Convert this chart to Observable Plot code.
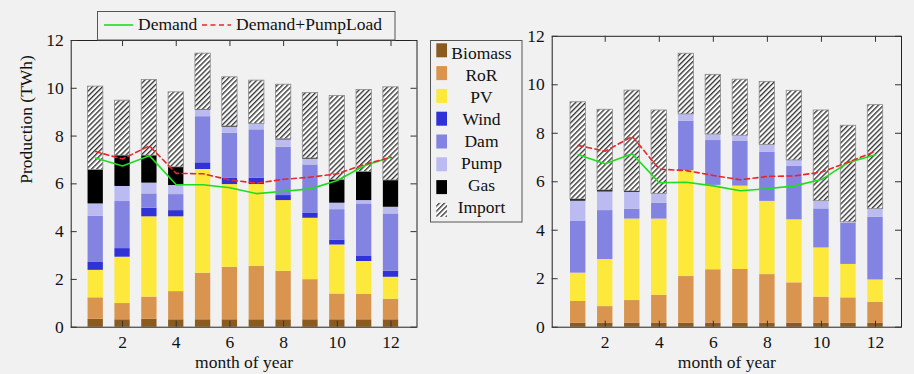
<!DOCTYPE html>
<html><head><meta charset="utf-8">
<script src="https://cdn.jsdelivr.net/npm/d3@7"></script>
<script src="https://cdn.jsdelivr.net/npm/@observablehq/plot@0.6"></script>
<style>
html,body{margin:0;padding:0;background:#f1f1f1;}
#wrap{position:relative;width:914px;height:374px;overflow:hidden;background:#f1f1f1;font-family:"Liberation Serif","DejaVu Serif",serif;}
#wrap svg.layer{position:absolute;left:0;top:0;}
#wrap svg text{font-family:"Liberation Serif","DejaVu Serif",serif !important;}
</style></head><body>
<div id="wrap">
<svg width="0" height="0" style="position:absolute"><defs>
<pattern id="hatch" patternUnits="userSpaceOnUse" width="3.6" height="3.6" patternTransform="rotate(45)">
<rect width="3.6" height="3.6" fill="#ffffff"/>
<line x1="0.7" y1="0" x2="0.7" y2="3.6" stroke="#2a2a2a" stroke-width="1.3"/>
</pattern></defs></svg>
</div>
<script>
// ---------- data ----------
const months = [1,2,3,4,5,6,7,8,9,10,11,12];
const seriesNames = ["Biomass","RoR","PV","Wind","Dam","Pump","Gas","Import"];
const seriesColors = ["#8b5a1f","#d9954f","#fde93b","#3131d8","#8383e2","#bbbbf2","#000000","url(#hatch)"];
const xTicks = [2,4,6,8,10,12];
const yTicks = [0,2,4,6,8,10,12];

// left panel (TWh per segment)
const leftBiomass = [0.33,0.31,0.33,0.31,0.31,0.31,0.31,0.31,0.31,0.31,0.31,0.31];
const leftRoR     = [0.90,0.68,0.93,1.18,1.95,2.20,2.23,2.03,1.68,1.08,1.06,0.86];
const leftPV      = [1.15,1.94,3.36,3.13,4.34,3.46,3.43,2.96,2.57,2.05,1.38,0.92];
const leftWind    = [0.33,0.36,0.36,0.26,0.28,0.26,0.26,0.21,0.22,0.21,0.21,0.25];
const leftDam     = [1.93,1.97,0.60,0.67,1.93,1.89,2.03,2.02,2.01,1.27,2.20,2.40];
const leftPump    = [0.52,0.63,0.45,0.38,0.26,0.25,0.25,0.31,0.24,0.27,0.14,0.28];
const leftGas     = [1.42,1.29,1.15,0.76,0.03,0.03,0.00,0.03,0.03,0.97,1.20,1.12];
const leftImport  = [3.49,2.30,3.17,3.14,2.35,2.06,1.81,2.28,2.74,3.52,3.43,3.90];
const leftDemand     = [7.08,6.75,7.18,5.96,5.96,5.84,5.59,5.69,5.79,6.14,6.76,7.11];
const leftDemandPump = [7.35,7.04,7.59,6.44,6.42,6.16,6.03,6.19,6.28,6.42,6.81,7.11];

// right panel
const rightBiomass = [0.17,0.17,0.17,0.17,0.17,0.17,0.17,0.17,0.17,0.17,0.17,0.17];
const rightRoR     = [0.89,0.68,0.93,1.15,1.92,2.20,2.21,2.00,1.66,1.07,1.04,0.85];
const rightPV      = [1.17,1.94,3.36,3.14,4.37,3.48,3.44,3.02,2.60,2.03,1.38,0.93];
const rightWind    = [0,0,0,0,0,0,0,0,0,0,0,0];
const rightDam     = [2.13,2.02,0.40,0.66,2.04,1.85,1.86,2.02,2.20,1.61,1.70,2.58];
const rightPump    = [0.84,0.77,0.70,0.38,0.28,0.25,0.22,0.31,0.25,0.32,0.04,0.34];
const rightGas     = [0.07,0.06,0.04,0,0,0,0,0,0,0,0,0];
const rightImport  = [4.01,3.33,4.16,3.44,2.50,2.46,2.31,2.60,2.87,3.74,3.98,4.29];
const rightDemand     = [7.11,6.74,7.15,5.96,5.98,5.83,5.63,5.71,5.83,6.09,6.80,7.11];
const rightDemandPump = [7.50,7.26,7.87,6.52,6.46,6.26,6.08,6.22,6.24,6.40,6.81,7.26];

// ---------- build ----------
function makeRows(arrs) {
  const rows = [];
  months.forEach((m, i) => {
    seriesNames.forEach((s, j) => {
      const v = arrs[j][i];
      if (v > 0) rows.push({month: m, series: s, value: v});
    });
  });
  return rows;
}

const W = 914, H = 374, HW = 0.285;
const FONT = '"Liberation Serif", "DejaVu Serif", serif';

function panel({rows, demand, demandPump, ml, mr, mt, mb, xRange, yLabel}) {
  const fh = H - mt - mb, fw = W - ml - mr;
  const marks = [
    Plot.rectY(rows, {x1: d => d.month - HW, x2: d => d.month + HW, y: "value", z: "series", fill: "series"}),
    Plot.rectY(rows, {x1: d => d.month - HW, x2: d => d.month + HW, y: "value", z: "series", fill: "none",
      stroke: "#8a8a8a", strokeWidth: 0.8, strokeOpacity: d => d.series === "Import" ? 1 : 0}),
    Plot.frame({stroke: "#222", strokeWidth: 1}),
    Plot.tickX(xTicks, {x: d => d, insetTop: fh - 6, stroke: "#333"}),
    Plot.tickX(xTicks, {x: d => d, insetBottom: fh - 6, stroke: "#333"}),
    Plot.tickY(yTicks, {y: d => d, insetRight: fw - 6, stroke: "#333"}),
    Plot.tickY(yTicks, {y: d => d, insetLeft: fw - 6, stroke: "#333"}),
    Plot.text(xTicks, {x: d => d, text: d => String(d), frameAnchor: "bottom", lineAnchor: "top", dy: 8, fill: "#111"}),
    Plot.text(yTicks, {y: d => d, text: d => String(d), frameAnchor: "left", textAnchor: "end", dx: -7.4, fill: "#111"}),
    Plot.text(["month of year"], {text: d => d, frameAnchor: "bottom", lineAnchor: "top", dy: 28.6, fill: "#111"}),
    Plot.line(months, {x: d => d, y: (d, i) => demand[i], stroke: "#1fdc1f", strokeWidth: 1.6}),
    Plot.line(months, {x: d => d, y: (d, i) => demandPump[i], stroke: "#e8262a", strokeWidth: 1.6, strokeDasharray: "5,3.5"})
  ];
  if (yLabel) marks.push(Plot.text([yLabel], {text: d => d, frameAnchor: "left", rotate: -90, dx: -(ml - 26), fill: "#111"}));
  const svg = Plot.plot({
    width: W, height: H,
    marginLeft: ml, marginRight: mr, marginTop: mt, marginBottom: mb,
    x: {domain: [1, 12], range: xRange, axis: null},
    y: {domain: [0, 12], axis: null},
    color: {domain: seriesNames, range: seriesColors},
    opacity: {domain: [0, 1], range: [0, 1]},
    style: {fontFamily: FONT, fontSize: "17.5px", background: "transparent", overflow: "visible"},
    marks
  });
  svg.classList.add("layer");
  return svg;
}

const wrap = document.getElementById("wrap");
wrap.appendChild(panel({
  rows: makeRows([leftBiomass,leftRoR,leftPV,leftWind,leftDam,leftPump,leftGas,leftImport]),
  demand: leftDemand, demandPump: leftDemandPump,
  ml: 70.7, mr: 497.5, mt: 40, mb: 47.3, xRange: [95.2, 390.5], yLabel: "Production (TWh)"
}));
wrap.appendChild(panel({
  rows: makeRows([rightBiomass,rightRoR,rightPV,rightWind,rightDam,rightPump,rightGas,rightImport]),
  demand: rightDemand, demandPump: rightDemandPump,
  ml: 551.7, mr: 13, mt: 35.8, mb: 47.3, xRange: [577.7, 875], yLabel: null
}));

// ---------- legends ----------
const leg = d3.select(wrap).append("svg").attr("class", "layer").attr("width", W).attr("height", H)
  .style("font-family", FONT).style("font-size", "17.5px");
// top legend
leg.append("rect").attr("x", 97.5).attr("y", 11.5).attr("width", 297.5).attr("height", 28.5)
  .attr("fill", "#f1f1f1").attr("stroke", "#555");
leg.append("line").attr("x1", 104).attr("x2", 133).attr("y1", 25).attr("y2", 25)
  .attr("stroke", "#1fdc1f").attr("stroke-width", 1.6);
leg.append("text").attr("x", 138).attr("y", 30).attr("fill", "#111").text("Demand");
leg.append("line").attr("x1", 202).attr("x2", 231).attr("y1", 25).attr("y2", 25)
  .attr("stroke", "#e8262a").attr("stroke-width", 1.6).attr("stroke-dasharray", "5,3.5");
leg.append("text").attr("x", 236).attr("y", 30).attr("fill", "#111").text("Demand+PumpLoad");
// series legend
leg.append("rect").attr("x", 430.5).attr("y", 40.5).attr("width", 91.5).attr("height", 181.5)
  .attr("fill", "#f1f1f1").attr("stroke", "#555");
seriesNames.forEach((s, i) => {
  leg.append("rect").attr("x", 436.3).attr("y", 43.3 + 22.8 * i).attr("width", 10.7).attr("height", 14)
    .attr("fill", seriesColors[i]);
  leg.append("text").attr("x", 481.5).attr("y", 59.3 + 22.0 * i).attr("text-anchor", "middle")
    .attr("fill", "#111").text(s);
});
</script>
</body></html>
